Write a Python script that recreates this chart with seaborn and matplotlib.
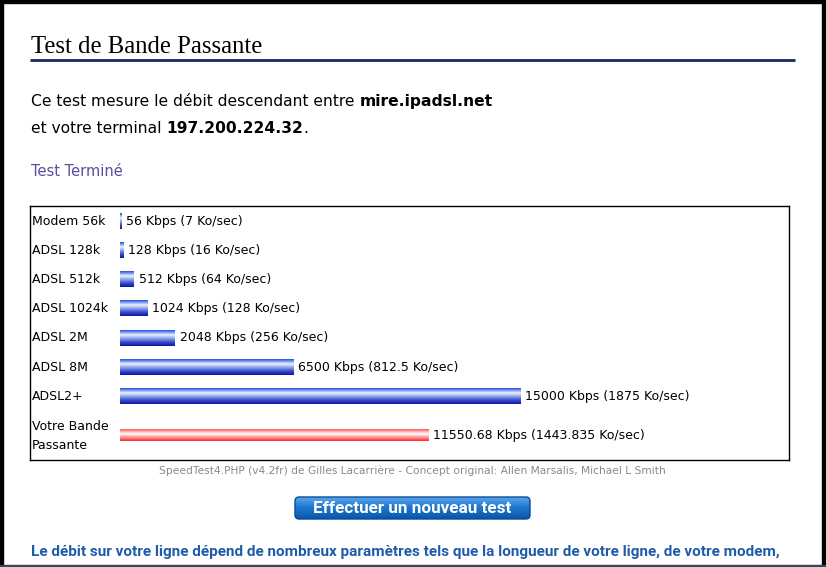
import numpy as np
import pandas as pd
import matplotlib
matplotlib.use("Agg")
import matplotlib.pyplot as plt
import matplotlib.transforms as mtransforms
from matplotlib.colors import LinearSegmentedColormap
from matplotlib.patches import Rectangle, FancyBboxPatch
import seaborn as sns

# Chart data
categories = ["Modem 56k", "ADSL 128k", "ADSL 512k", "ADSL 1024k",
              "ADSL 2M", "ADSL 8M", "ADSL2+", "Votre Bande\nPassante"]
speeds_kbps = [56, 128, 512, 1024, 2048, 6500, 15000, 11550.68]
is_user = [False, False, False, False, False, False, False, True]

footer = ("SpeedTest4.PHP (v4.2fr) de Gilles Lacarrière - "
          "Concept original: Allen Marsalis, Michael L Smith")

W, H = 826, 567

sns.set_theme(style="white")
plt.rcParams["font.family"] = ["DejaVu Sans"]
plt.rcParams["text.color"] = "black"

fig = plt.figure(figsize=(W / 100, H / 100), dpi=100)
fig.patch.set_facecolor("white")

# full-figure axes in pixel units for the page decoration
bg = fig.add_axes([0, 0, 1, 1])
bg.set_xlim(0, W)
bg.set_ylim(H, 0)
bg.axis("off")


def fmt(x):
    return f"{x:.3f}".rstrip("0").rstrip(".")


# page header
bg.text(31, 53, "Test de Bande Passante", family="Liberation Serif",
        fontsize=17.8, va="baseline", color="black")
bg.plot([30, 795], [60, 60], color="#1c2461", lw=2, solid_capstyle="butt")

t = bg.text(31, 106, "Ce test mesure le débit descendant entre ",
            fontsize=11.2, va="baseline")
bg.annotate("mire.ipadsl.net", xy=(1, 0), xycoords=t, va="bottom",
            fontsize=11.2, fontweight="bold")
t = bg.text(31, 133, "et votre terminal ", fontsize=11.2, va="baseline")
t = bg.annotate("197.200.224.32", xy=(1, 0), xycoords=t, va="bottom",
                fontsize=11.2, fontweight="bold")
bg.annotate(".", xy=(1, 0), xycoords=t, va="bottom", fontsize=11.2)

bg.text(31, 176, "Test Terminé", fontsize=10.5, va="baseline", color="#5a4c9e")

# chart table box
ax = fig.add_axes([30 / W, 1 - 460 / H, (789 - 30) / W, (460 - 206) / H])
ax.set_zorder(2)

n_lines = np.array([c.count("\n") + 1 for c in categories])
row_h = 1 + 0.72 * (n_lines - 1)
rows = np.cumsum(row_h) - row_h / 2 + 0.03

df = pd.DataFrame({"label": categories, "kbps": speeds_kbps,
                   "row": rows, "user": is_user})
ref = df[~df["user"]]
me = df[df["user"]]

sns.barplot(data=ref, x="kbps", y="row", orient="h", native_scale=True,
            width=0.52, color="#2a48d0", errorbar=None, linewidth=0, ax=ax)
sns.barplot(data=me, x="kbps", y="row", orient="h", native_scale=True,
            width=0.38, color="#ff4a4a", errorbar=None, linewidth=0, ax=ax)

# bars start 90px into the box, 15000 Kbps spans 400px
px_per_unit = 400 / max(speeds_kbps)
xmin = -90 / px_per_unit
xmax = xmin + 759 / px_per_unit

blue_cmap = LinearSegmentedColormap.from_list(
    "blue", [(0, "#1f4fe6"), (0.3, "#eef3ff"), (0.45, "#a8bcf2"),
             (0.75, "#3a50d0"), (1, "#10139e")])
red_cmap = LinearSegmentedColormap.from_list(
    "red", [(0, "#ff5858"), (0.4, "#ffffff"), (0.6, "#ffb4b4"),
            (1, "#ff2c2c")])
grad = np.linspace(0, 1, 64)[:, None]

bars = list(ax.patches)
for p, user in zip(bars, is_user):
    x0, y0, w, h = p.get_x(), p.get_y(), p.get_width(), p.get_height()
    ax.imshow(grad, cmap=red_cmap if user else blue_cmap, aspect="auto",
              extent=(x0, x0 + w, y0 + h, y0), zorder=3,
              interpolation="bilinear")

for r, v in zip(rows, speeds_kbps):
    ax.annotate(f"{fmt(v)} Kbps ({fmt(v / 8)} Ko/sec)", xy=(v, r),
                xytext=(5, 0), textcoords="offset pixels", va="center",
                ha="left", fontsize=9, color="black")

trans = mtransforms.blended_transform_factory(ax.transAxes, ax.transData)
for r, c in zip(rows, categories):
    ax.text(0.002, r, c, transform=trans, va="center", ha="left",
            fontsize=9, linespacing=1.55, color="black")

ax.set_xlim(xmin, xmax)
ax.set_ylim(row_h.sum(), 0)
ax.set_xticks([])
ax.set_yticks([])
ax.set_xlabel("")
ax.set_ylabel("")
ax.set_facecolor("white")
for s in ax.spines.values():
    s.set_visible(True)
    s.set_color("black")
    s.set_linewidth(1)

# footer credit
bg.text(412, 474, footer, fontsize=7.7, color="#8a8a8a", ha="center",
        va="baseline")

# button
btn = FancyBboxPatch((295, 497), 235, 22,
                     boxstyle="round,pad=0,rounding_size=4",
                     facecolor="none", edgecolor="#0b4c96", lw=1, zorder=4)
bg.add_patch(btn)
btn_cmap = LinearSegmentedColormap.from_list(
    "btn", [(0, "#5aa6ec"), (0.45, "#1f78d0"), (1, "#0a56a8")])
im = bg.imshow(grad, cmap=btn_cmap, aspect="auto",
               extent=(295, 530, 519, 497), zorder=3)
im.set_clip_path(btn)
bg.text(412, 508.5, "Effectuer un nouveau test", family="Roboto",
        fontweight="bold", fontsize=12.3, color="white", ha="center",
        va="center", zorder=5)

bg.text(31, 556, "Le débit sur votre ligne dépend de nombreux paramètres "
        "tels que la longueur de votre ligne, de votre modem,",
        family="Roboto", fontweight="bold", fontsize=11, color="#1e5cab",
        va="baseline")

# window frame
bg.add_patch(Rectangle((0, 0), 3, H, color="black", zorder=6))
bg.add_patch(Rectangle((0, 0), W, 3, color="black", zorder=6))
bg.add_patch(Rectangle((822, 0), 4, H, color="black", zorder=6))
bg.add_patch(Rectangle((0, 565), W, 2, color="#34475a", zorder=6))
bg.set_xlim(0, W)
bg.set_ylim(H, 0)

fig.savefig("out.png", dpi=100, facecolor="white")
